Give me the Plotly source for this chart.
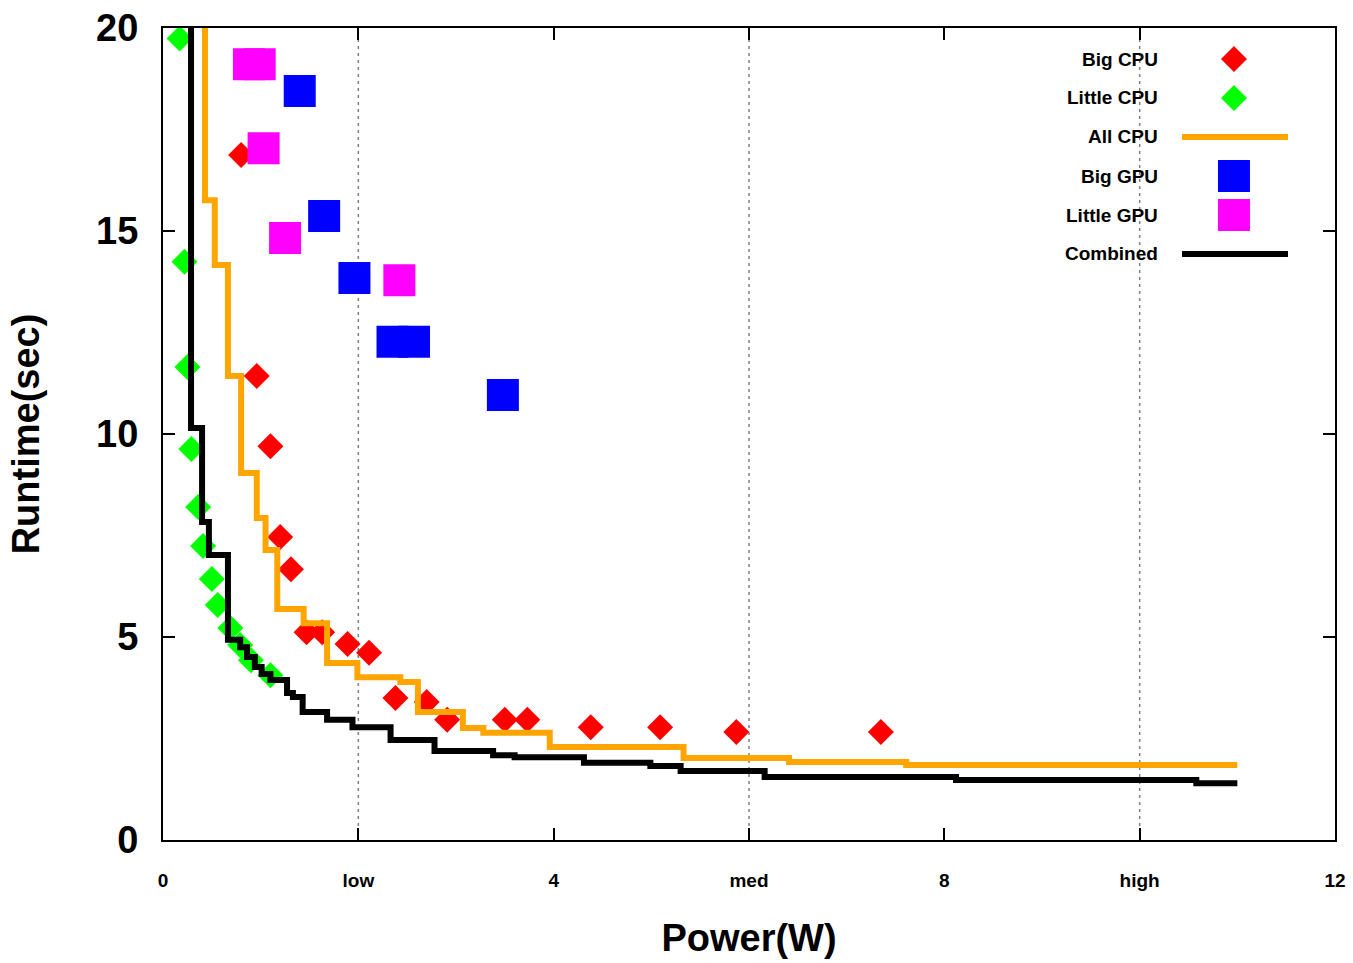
import plotly.graph_objects as go

# ---------------- data ----------------
big_cpu_x = [0.80, 0.96, 1.10, 1.20, 1.31, 1.47, 1.63, 1.89, 2.11, 2.38, 2.70, 2.91, 3.50, 3.73, 4.38, 5.09, 5.87, 7.35]
big_cpu_y = [16.87, 11.43, 9.70, 7.46, 6.67, 5.12, 5.12, 4.83, 4.61, 3.50, 3.40, 2.96, 2.96, 2.96, 2.78, 2.78, 2.66, 2.66]

little_cpu_x = [0.17, 0.22, 0.25, 0.29, 0.36, 0.41, 0.50, 0.56, 0.69, 0.79, 0.90, 1.10]
little_cpu_y = [19.74, 14.24, 11.65, 9.63, 8.20, 7.24, 6.43, 5.79, 5.22, 4.80, 4.43, 4.06]

all_cpu_x = [0.43, 0.53, 0.665, 0.80, 0.96, 1.05, 1.17, 1.44, 1.68, 1.99, 2.43, 2.61, 3.07, 3.28, 3.96, 5.33, 6.41, 7.61, 11.0]
all_cpu_y = [25.0, 15.76, 14.16, 11.43, 9.04, 7.93, 7.14, 5.69, 5.34, 4.36, 4.01, 3.89, 3.15, 2.76, 2.64, 2.29, 2.02, 1.92, 1.85]

big_gpu_x = [1.40, 1.65, 1.96, 2.35, 2.57, 3.48]
big_gpu_y = [18.45, 15.37, 13.84, 12.27, 12.27, 10.96]

little_gpu_x = [0.88, 0.99, 1.03, 1.25, 2.42]
little_gpu_y = [19.11, 19.11, 17.04, 14.83, 13.79]

combined_x = [0.287, 0.40, 0.47, 0.665, 0.79, 0.86, 0.94, 1.01, 1.10, 1.27, 1.33, 1.43, 1.68, 1.94, 2.33,
              2.78, 3.38, 3.60, 4.31, 4.99, 5.30, 6.16, 8.12, 10.58, 11.0]
combined_y = [25.0, 10.15, 7.83, 7.02, 4.93, 4.75, 4.51, 4.26, 4.09, 3.94, 3.62, 3.52, 3.15, 2.96, 2.78,
              2.46, 2.19, 2.09, 2.04, 1.90, 1.82, 1.70, 1.55, 1.48, 1.40]

x_tick_vals = [0, 2, 4, 6, 8, 10, 12]
x_tick_text = ["0", "low", "4", "med", "8", "high", "12"]
y_tick_vals = [0, 5, 10, 15, 20]
grid_x = [2, 6, 10]

legend_labels = ["Big CPU", "Little CPU", "All CPU", "Big GPU", "Little GPU", "Combined"]

# ---------------- styles ----------------
RED, GREEN, ORANGE, BLUE, MAGENTA, BLACK = "#FF0000", "#00FF00", "#FFA500", "#0000FF", "#FF00FF", "#000000"
FONT = "Liberation Sans, Arial, Helvetica, sans-serif"

fig = go.Figure()

def markers(x, y, symbol, size, color):
    return go.Scatter(x=x, y=y, mode="markers", cliponaxis=False, showlegend=False,
                      marker=dict(symbol=symbol, size=size, color=color, line=dict(width=0)))

def steps(x, y, color):
    return go.Scatter(x=x, y=y, mode="lines", showlegend=False,
                      line=dict(color=color, width=6, shape="vh"))

fig.add_trace(markers(big_cpu_x, big_cpu_y, "diamond", 20, RED))
fig.add_trace(markers(little_cpu_x, little_cpu_y, "diamond", 20, GREEN))
fig.add_trace(steps(all_cpu_x, all_cpu_y, ORANGE))
fig.add_trace(markers(big_gpu_x, big_gpu_y, "square", 32, BLUE))
fig.add_trace(markers(little_gpu_x, little_gpu_y, "square", 32, MAGENTA))
fig.add_trace(steps(combined_x, combined_y, BLACK))

# ---------------- key (drawn on an overlay axis in plot-area fractions) ----------------
row_y = [0.9618, 0.9138, 0.8658, 0.8177, 0.7697, 0.7217]
mark_x = 0.9138
line_x0, line_x1 = 0.8695, 0.9599
key_styles = [("diamond", RED, 20), ("diamond", GREEN, 20), ("line", ORANGE, 6),
              ("square", BLUE, 32), ("square", MAGENTA, 32), ("line", BLACK, 6)]
for label, yy, (kind, col, sz) in zip(legend_labels, row_y, key_styles):
    if kind == "line":
        fig.add_trace(go.Scatter(x=[line_x0, line_x1], y=[yy, yy], mode="lines", xaxis="x2", yaxis="y2",
                                 showlegend=False, line=dict(color=col, width=sz)))
    else:
        fig.add_trace(go.Scatter(x=[mark_x], y=[yy], mode="markers", xaxis="x2", yaxis="y2",
                                 showlegend=False, cliponaxis=False,
                                 marker=dict(symbol=kind, size=sz, color=col, line=dict(width=0))))
    fig.add_annotation(x=0.851, y=yy, xref="paper", yref="paper", text=label, showarrow=False,
                       xanchor="right", yanchor="middle",
                       font=dict(family=FONT, size=19, color="black", weight="bold"))

for gx in grid_x:
    fig.add_vline(x=gx, line=dict(color="#7f7f7f", width=1.5, dash="3px,4px"), layer="below")

fig.update_layout(
    width=1353, height=963,
    margin=dict(l=163, r=18, t=28, b=123, autoexpand=False),
    paper_bgcolor="white", plot_bgcolor="white",
    showlegend=False,
    xaxis=dict(range=[0, 12], tickvals=x_tick_vals, ticktext=x_tick_text, automargin=False,
               ticks="inside", ticklen=12, tickwidth=1.5, tickcolor="black",
               showline=True, linewidth=2, linecolor="black", mirror="ticks",
               showgrid=False, zeroline=False, ticklabelstandoff=22,
               tickfont=dict(family=FONT, size=19, color="black", weight="bold"),
               title=dict(text="Power(W)", standoff=35,
                          font=dict(family=FONT, size=38, color="black", weight="bold"))),
    yaxis=dict(range=[0, 20], tickvals=y_tick_vals, automargin=False,
               ticks="inside", ticklen=12, tickwidth=1.5, tickcolor="black",
               showline=True, linewidth=2, linecolor="black", mirror="ticks",
               showgrid=False, zeroline=False, ticklabelstandoff=15,
               tickfont=dict(family=FONT, size=38, color="black", weight="bold"),
               title=dict(text="Runtime(sec)", standoff=45,
                          font=dict(family=FONT, size=38, color="black", weight="bold"))),
    xaxis2=dict(overlaying="x", anchor="y2", range=[0, 1], visible=False),
    yaxis2=dict(overlaying="y", anchor="x2", range=[0, 1], visible=False),
)

fig.write_html("out.html")
